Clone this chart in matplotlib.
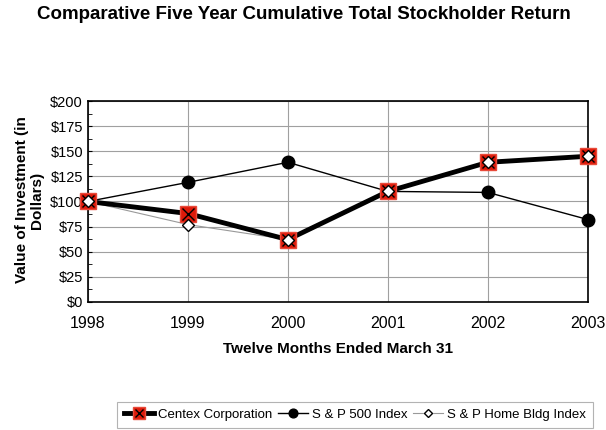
import matplotlib.pyplot as plt
from matplotlib.ticker import MultipleLocator, FuncFormatter

plt.rcParams['font.family'] = ['Liberation Sans', 'DejaVu Sans']

years = [1998, 1999, 2000, 2001, 2002, 2003]
centex = [100, 88, 62, 110, 139, 145]
sp500 = [100, 119, 139, 110, 109, 82]
home_bldg = [100, 77, 62, 110, 139, 145]

fig = plt.figure(figsize=(6.06, 4.30), dpi=100)
ax = fig.add_axes([0.145, 0.298, 0.825, 0.467])

# home building line goes below everything, its markers on top
hb_line, = ax.plot(years, home_bldg, color='#999999', lw=0.8, zorder=2)
# S&P 500
sp_line, = ax.plot(years, sp500, color='black', lw=1, marker='o', ms=9,
                   markerfacecolor='black', zorder=3, clip_on=False)
# Centex: thick line, red square with black x
cx_line, = ax.plot(years, centex, color='black', lw=3.5, marker='s', ms=12,
                   markerfacecolor='#dd1a0a', markeredgecolor='#e84a3a',
                   markeredgewidth=1, zorder=4, clip_on=False)
cx_x, = ax.plot(years, centex, ls='none', marker='x', ms=9, color='black',
                markeredgewidth=1, zorder=5, clip_on=False)
hb_mk, = ax.plot(years, home_bldg, ls='none', marker='D', ms=6,
                 markerfacecolor='white', markeredgecolor='black',
                 markeredgewidth=1, zorder=6, clip_on=False)

ax.set_xlim(1998, 2003)
ax.set_ylim(0, 200)
ax.yaxis.set_major_locator(MultipleLocator(25))
ax.yaxis.set_minor_locator(MultipleLocator(12.5))
ax.yaxis.set_major_formatter(FuncFormatter(lambda v, p: f"${v:.0f}"))
ax.set_xticks(years)
ax.grid(True, color='#a0a0a0', lw=0.8)
ax.tick_params(axis='y', which='both', direction='in', length=3, labelsize=10.5)
ax.tick_params(axis='x', length=0, labelsize=11.5, pad=10)
for s in ax.spines.values():
    s.set_linewidth(1.2)

ax.set_xlabel("Twelve Months Ended March 31", fontsize=11, fontweight='bold', labelpad=8)
fig.text(0.048, 0.535, "Value of Investment (in\nDollars)", rotation=90,
         ha='center', va='center', fontsize=11, fontweight='bold', linespacing=1.1)
fig.text(0.502, 0.967, "Comparative Five Year Cumulative Total Stockholder Return",
         ha='center', va='center', fontsize=13.5, fontweight='bold')

leg = fig.legend([(cx_line, cx_x), sp_line, (hb_line, hb_mk)],
                 ["Centex Corporation", "S & P 500 Index", "S & P Home Bldg Index"],
                 loc='center', bbox_to_anchor=(0.586, 0.035), ncol=3, fontsize=9.5,
                 frameon=True, fancybox=False, edgecolor='#a0a0a0',
                 handlelength=2.3, handletextpad=0.3, columnspacing=0.4,
                 borderpad=0.55, markerscale=0.7)
leg.get_frame().set_linewidth(0.8)

fig.savefig("out.png", dpi=100)
